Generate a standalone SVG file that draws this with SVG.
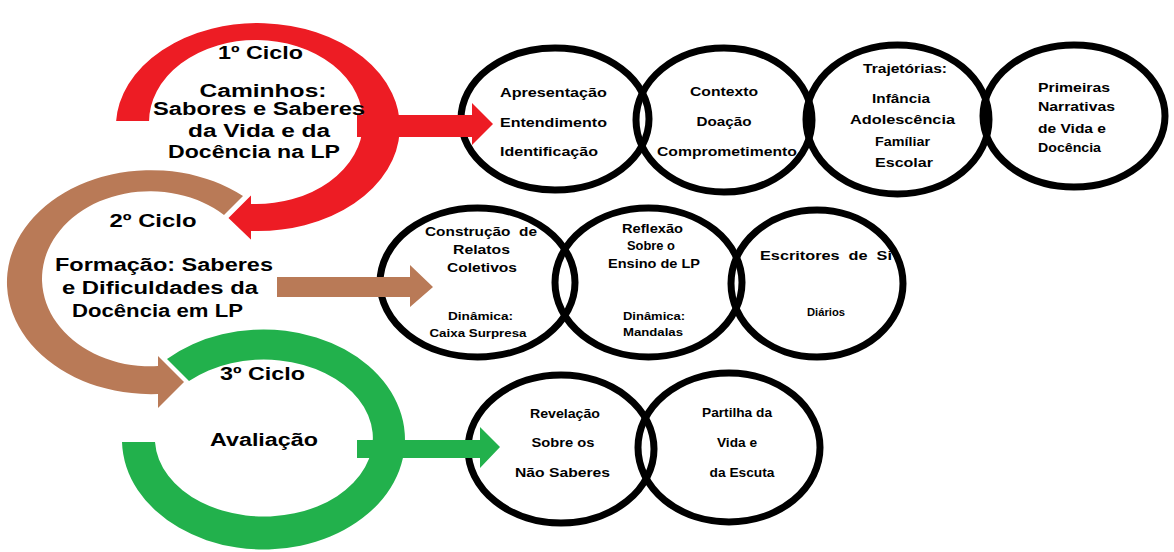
<svg xmlns="http://www.w3.org/2000/svg" width="1174" height="552" viewBox="0 0 1174 552">
<style>
.t{font-family:"Liberation Sans",Arial,sans-serif;font-weight:bold;fill:#000}
.big{font-size:17.5px;text-anchor:middle}
.m{font-size:12.4px;text-anchor:middle}
.l{font-size:12.4px;text-anchor:start}
.s{font-size:10px;text-anchor:middle}
.ring{fill:none;stroke:#000;stroke-width:7}
.red{fill:#ED1C24}
.brown{fill:#B97A57}
.green{fill:#22B14C}
</style>
<rect width="1174" height="552" fill="#fff"/>

<g id="cycle3">
<path class="green" d="M122,442 A141.5,110 0 1 0 167,359 L189,381 A109,78.5 0 1 1 155,442 Z"/>
<text class="t big" x="262.5" y="380" textLength="85" lengthAdjust="spacingAndGlyphs">3º Ciclo</text>
<text class="t big" x="264" y="446" textLength="108" lengthAdjust="spacingAndGlyphs">Avaliação</text>
</g>

<g id="cycle2">
<path class="brown" d="M243,196 A144,112 0 1 0 158,394 L158,408 L184,382 L158,356 L158,366 A108,87.5 0 1 1 224,215 Z"/>
<text class="t big" x="153" y="227" textLength="87" lengthAdjust="spacingAndGlyphs">2º Ciclo</text>
<text class="t big" x="164" y="271" textLength="218" lengthAdjust="spacingAndGlyphs">Formação: Saberes</text>
<text class="t big" x="160" y="294" textLength="196" lengthAdjust="spacingAndGlyphs">e Dificuldades da</text>
<text class="t big" x="157.5" y="317" textLength="171" lengthAdjust="spacingAndGlyphs">Docência em LP</text>
</g>

<g id="cycle1">
<path class="red" d="M115,122 A143,105 0 1 1 252,232 L252,242 L227,218 L252,193 L252,203 A106,81 0 1 0 150,122 Z" stroke="#fff" stroke-width="2"/>
<text class="t big" x="260.5" y="59" textLength="85" lengthAdjust="spacingAndGlyphs">1º Ciclo</text>
<text class="t big" x="263" y="97" textLength="127" lengthAdjust="spacingAndGlyphs">Caminhos:</text>
<text class="t big" x="259" y="115" textLength="212" lengthAdjust="spacingAndGlyphs">Sabores e Saberes</text>
<text class="t big" x="259" y="137" textLength="142" lengthAdjust="spacingAndGlyphs">da Vida e da</text>
<text class="t big" x="254" y="158" textLength="172" lengthAdjust="spacingAndGlyphs">Docência na LP</text>
</g>

<g id="n1">
<ellipse class="ring" cx="555" cy="119" rx="94" ry="71"/>
<text class="t l" x="500" y="96.5" textLength="107" lengthAdjust="spacingAndGlyphs">Apresentação</text>
<text class="t l" x="500" y="126.5" textLength="107" lengthAdjust="spacingAndGlyphs">Entendimento</text>
<text class="t l" x="500" y="156" textLength="98" lengthAdjust="spacingAndGlyphs">Identificação</text>
</g>
<g id="n2">
<ellipse class="ring" cx="724" cy="120" rx="88" ry="72"/>
<text class="t m" x="724" y="95.5" textLength="68" lengthAdjust="spacingAndGlyphs">Contexto</text>
<text class="t m" x="724" y="126" textLength="55" lengthAdjust="spacingAndGlyphs">Doação</text>
<text class="t m" x="727" y="155.5" textLength="140" lengthAdjust="spacingAndGlyphs">Comprometimento</text>
</g>
<g id="n3">
<ellipse class="ring" cx="897.5" cy="119.5" rx="91.5" ry="74.5"/>
<text class="t m" x="905" y="73" textLength="84" lengthAdjust="spacingAndGlyphs">Trajetórias:</text>
<text class="t m" x="901" y="102.5" textLength="58" lengthAdjust="spacingAndGlyphs">Infância</text>
<text class="t m" x="902.5" y="124" textLength="105" lengthAdjust="spacingAndGlyphs">Adolescência</text>
<text class="t m" x="902.5" y="146" textLength="55" lengthAdjust="spacingAndGlyphs">Famíliar</text>
<text class="t m" x="904" y="167" textLength="58" lengthAdjust="spacingAndGlyphs">Escolar</text>
</g>
<g id="n4">
<ellipse class="ring" cx="1074" cy="116" rx="91" ry="71"/>
<text class="t l" x="1038" y="91.7" textLength="72" lengthAdjust="spacingAndGlyphs">Primeiras</text>
<text class="t l" x="1038" y="110.7" textLength="77" lengthAdjust="spacingAndGlyphs">Narrativas</text>
<text class="t l" x="1038" y="132.7" textLength="68" lengthAdjust="spacingAndGlyphs">de Vida e</text>
<text class="t l" x="1038" y="151.7" textLength="63" lengthAdjust="spacingAndGlyphs">Docência</text>
</g>

<g id="n5">
<ellipse class="ring" cx="477.5" cy="282.5" rx="97.5" ry="74.5"/>
<text class="t m" x="481" y="236" textLength="112" lengthAdjust="spacingAndGlyphs" xml:space="preserve">Construção  de</text>
<text class="t m" x="481.5" y="254" textLength="57" lengthAdjust="spacingAndGlyphs">Relatos</text>
<text class="t m" x="482" y="272" textLength="70" lengthAdjust="spacingAndGlyphs">Coletivos</text>
<text class="t s" x="480.5" y="320" textLength="65" lengthAdjust="spacingAndGlyphs">Dinâmica:</text>
<text class="t s" x="478" y="337" textLength="97" lengthAdjust="spacingAndGlyphs">Caixa Surpresa</text>
</g>
<g id="n6">
<ellipse class="ring" cx="648.5" cy="282.5" rx="93.5" ry="74.5"/>
<text class="t m" x="652.5" y="232.7" textLength="61" lengthAdjust="spacingAndGlyphs">Reflexão</text>
<text class="t m" x="651" y="250" textLength="48" lengthAdjust="spacingAndGlyphs">Sobre o</text>
<text class="t m" x="654" y="268" textLength="92" lengthAdjust="spacingAndGlyphs">Ensino de LP</text>
<text class="t s" x="654" y="320" textLength="62" lengthAdjust="spacingAndGlyphs">Dinâmica:</text>
<text class="t s" x="653" y="335.5" textLength="60" lengthAdjust="spacingAndGlyphs">Mandalas</text>
</g>
<g id="n7">
<ellipse class="ring" cx="817" cy="283.5" rx="86" ry="73.5"/>
<text class="t m" x="826" y="260" textLength="132" lengthAdjust="spacingAndGlyphs" xml:space="preserve">Escritores  de  Si</text>
<text class="t s" x="826" y="316" textLength="38" lengthAdjust="spacingAndGlyphs">Diários</text>
</g>

<g id="n8">
<ellipse class="ring" cx="561" cy="449" rx="93" ry="74"/>
<text class="t m" x="565" y="418" textLength="70" lengthAdjust="spacingAndGlyphs">Revelação</text>
<text class="t m" x="563" y="447" textLength="63" lengthAdjust="spacingAndGlyphs">Sobre os</text>
<text class="t m" x="562.5" y="477" textLength="95" lengthAdjust="spacingAndGlyphs">Não Saberes</text>
</g>
<g id="n9">
<ellipse class="ring" cx="729" cy="447.5" rx="91" ry="74.5"/>
<text class="t m" x="737" y="417" textLength="70" lengthAdjust="spacingAndGlyphs">Partilha da</text>
<text class="t m" x="737" y="447" textLength="40" lengthAdjust="spacingAndGlyphs">Vida e</text>
<text class="t m" x="742" y="477" textLength="65" lengthAdjust="spacingAndGlyphs">da Escuta</text>
</g>

<g id="connectors">
<path class="red" d="M357,115 H472 V103 L493,124 L472,145 V137 H357 Z"/>
<path class="brown" d="M277,277 H410 V265 L433,287 L410,307 V297 H277 Z"/>
<path class="green" d="M357,440 H480 V427 L500,447 L480,468 V458 H357 Z"/>
</g>
</svg>
